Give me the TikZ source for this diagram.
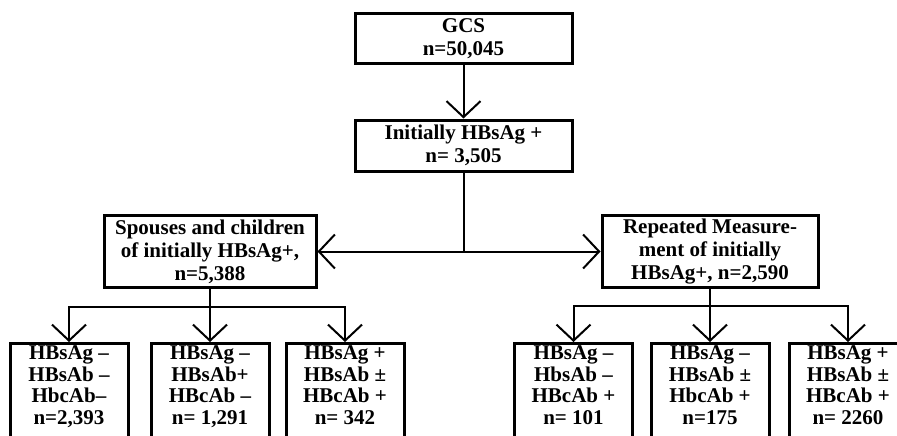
\documentclass[tikz,border=0pt]{standalone}
\usepackage{fontspec}
\setmainfont{Liberation Serif}
\usetikzlibrary{arrows.meta}
\newcommand\lowdepth{\rule[-24pt]{0pt}{1pt}}
\tikzset{
  topbox/.style={draw, line width=3pt, rectangle, inner sep=0pt, align=center,
    font={\fontsize{21}{23}\selectfont\bfseries}},
  lowbox/.style={draw, line width=3pt, rectangle, anchor=north, inner xsep=0pt, inner ysep=2pt,
    minimum width=118pt, align=center, font={\fontsize{21}{21.7}\selectfont\bfseries}},
  conn/.style={line width=2pt},
  arr/.style={line width=2pt, -{Straight Barb[length=16pt,width=34pt,line width=2pt]}}
}
\begin{document}
\begin{tikzpicture}[x=1pt,y=-1pt]
\useasboundingbox (0,0) rectangle (897,436);
\clip (0,0) rectangle (897,436);
\fill[white] (0,0) rectangle (897,436);
\node[topbox, minimum width=217pt, minimum height=50pt] (gcs) at (463.5,39) {GCS\\n=50,045};
\node[topbox, minimum width=217pt, minimum height=51pt] (init) at (463.5,145.5) {Initially HBsAg +\\n= 3,505};
\node[topbox, minimum width=212pt, minimum height=72pt] (sp) at (210,251.5) {Spouses and children\\of initially HBsAg+,\\n=5,388};
\node[topbox, minimum width=216pt, minimum height=72pt] (rep) at (710,251.5) {Repeated Measure-\\ment of initially\\HBsAg+, n=2,590};
\node[lowbox] (b1) at (69,342) {HBsAg –\\HBsAb –\\HbcAb–\\n=2,393\lowdepth};
\node[lowbox] (b2) at (210,342) {HBsAg –\\HBsAb+\\HBcAb –\\n= 1,291\lowdepth};
\node[lowbox] (b3) at (345,342) {HBsAg +\\HBsAb ±\\HBcAb +\\n= 342\lowdepth};
\node[lowbox] (b4) at (573.5,342) {HBsAg –\\HbsAb –\\HBcAb +\\n= 101\lowdepth};
\node[lowbox] (b5) at (710,342) {HBsAg –\\HBsAb ±\\HbcAb +\\n=175\lowdepth};
\node[lowbox] (b6) at (848,342) {HBsAg +\\HBsAb ±\\HBcAb +\\n= 2260\lowdepth};
\coordinate (j) at (463.5,251.5);
\coordinate (hl) at (210,307);
\coordinate (hr) at (710,306);
\draw[arr] (gcs.south) -- (init.north);
\draw[conn] (init.south) -- (j);
\draw[arr] (j) -- (sp.east);
\draw[arr] (j) -- (rep.west);
\draw[conn] (sp.south) -- (hl);
\draw[arr] (hl) -| (b1.north);
\draw[arr] (hl) -- (b2.north);
\draw[arr] (hl) -| (b3.north);
\draw[conn] (rep.south) -- (hr);
\draw[arr] (hr) -| (b4.north);
\draw[arr] (hr) -- (b5.north);
\draw[arr] (hr) -| (b6.north);
\end{tikzpicture}
\end{document}
